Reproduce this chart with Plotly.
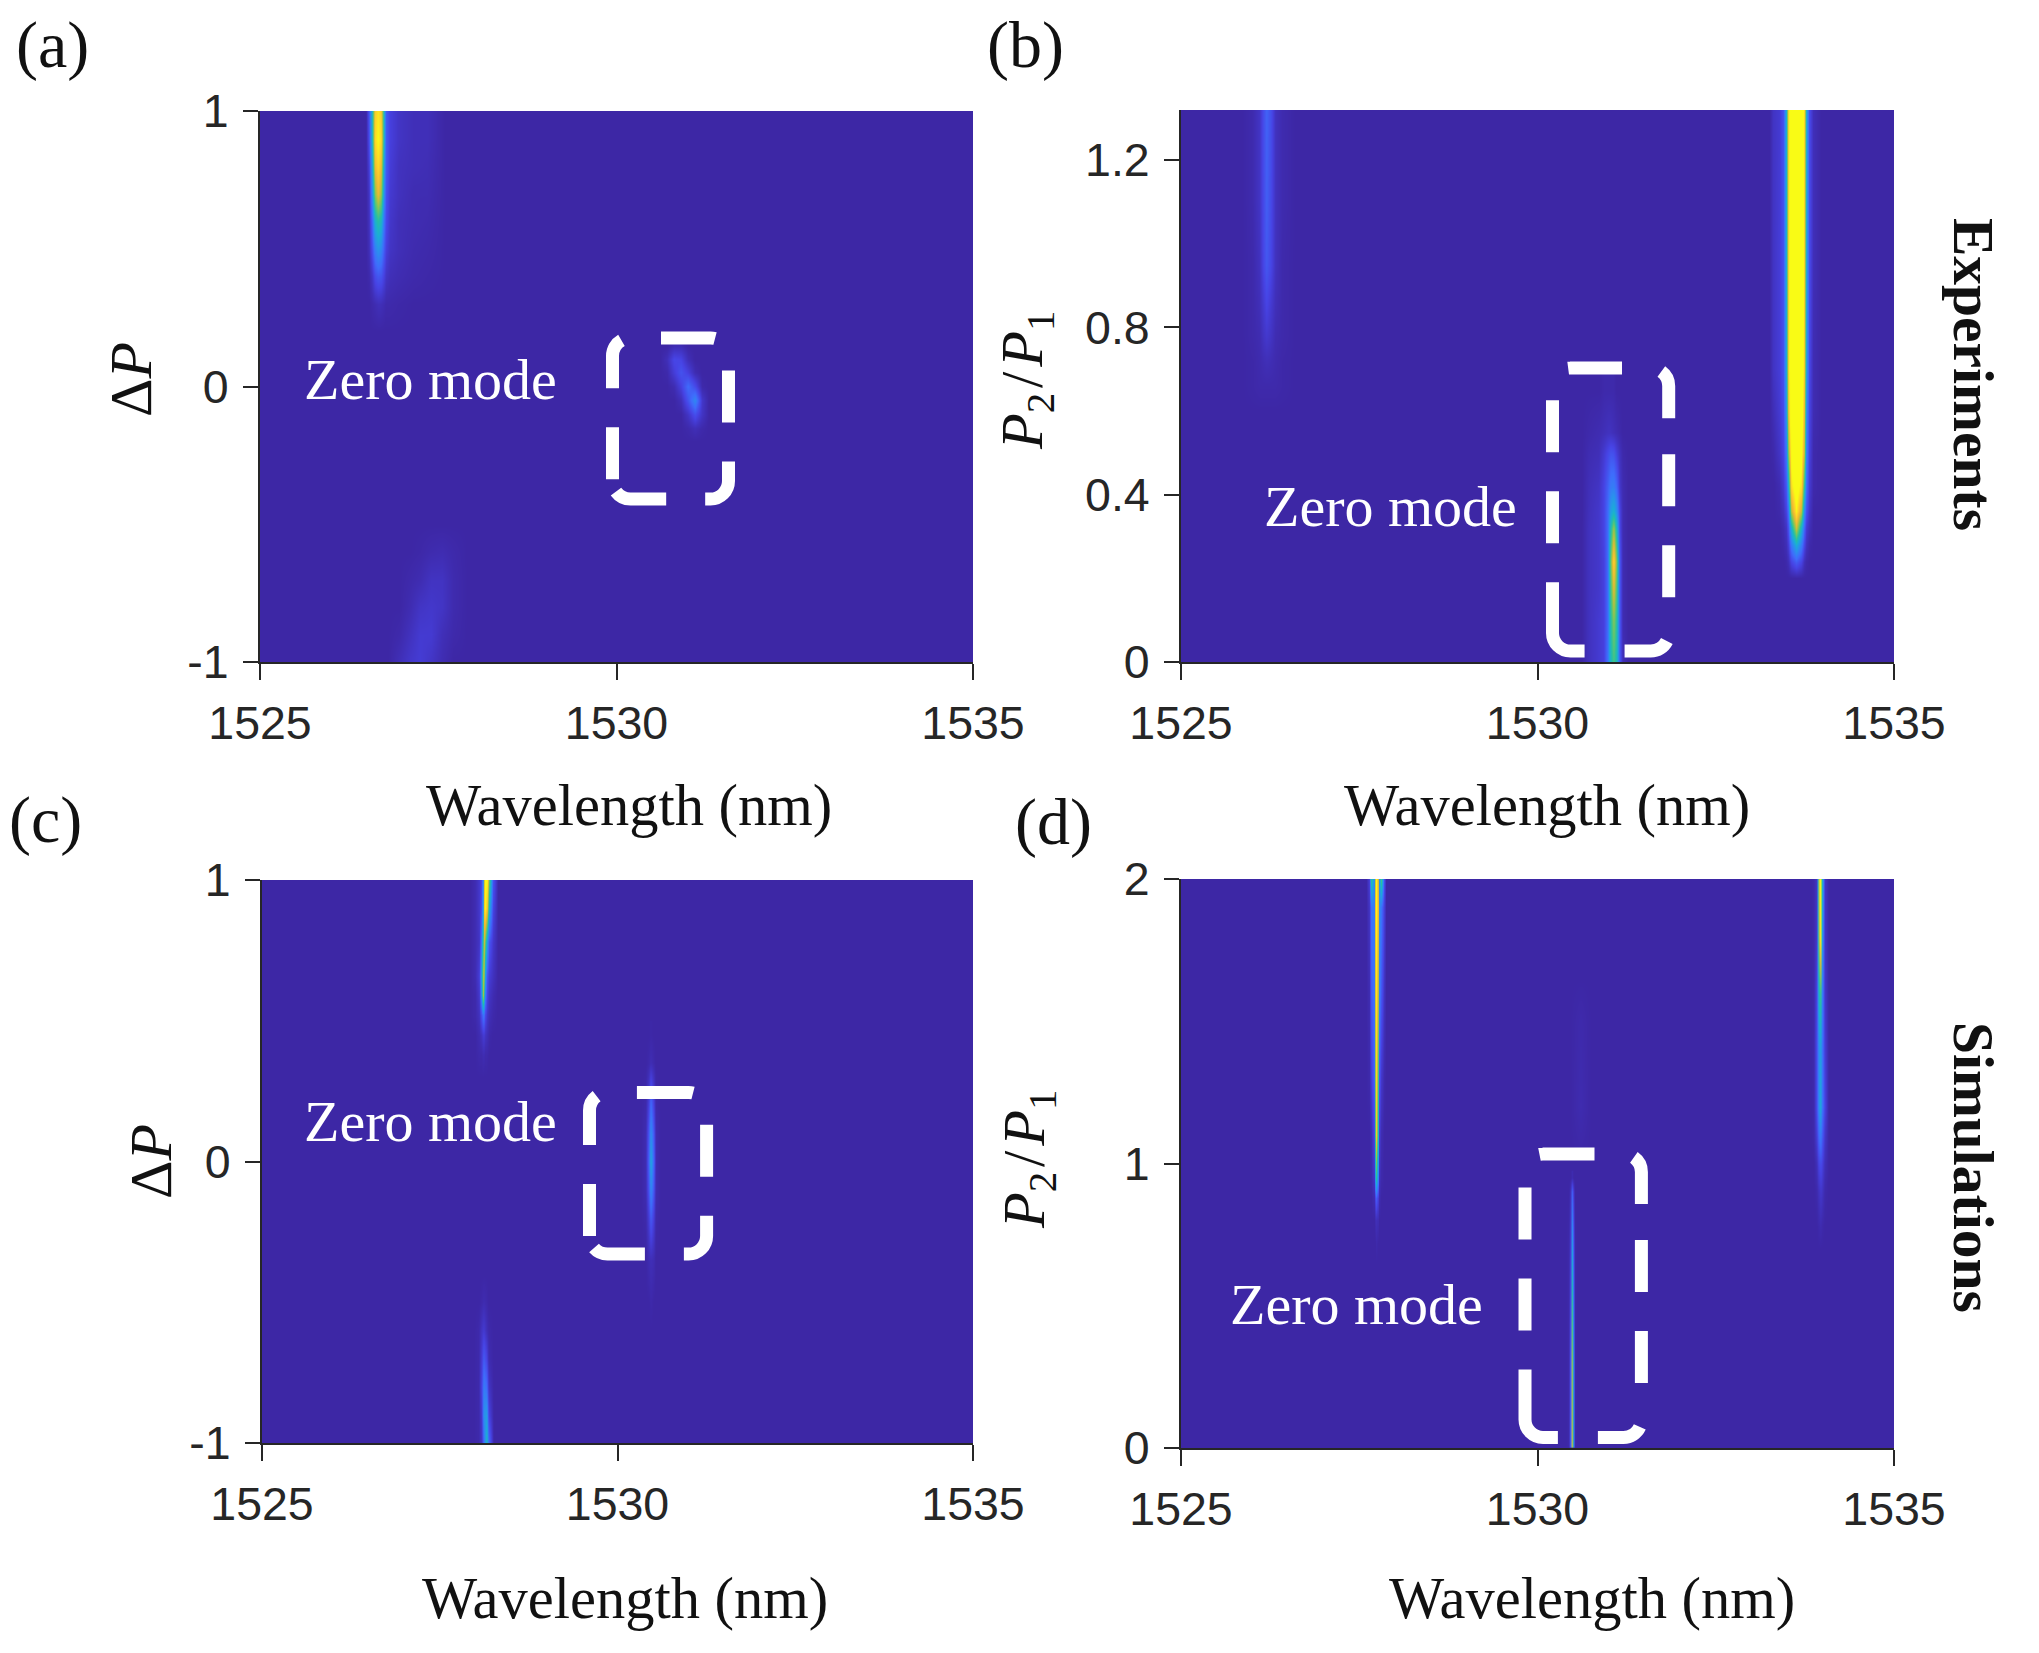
import plotly.graph_objects as go

W, H = 2039, 1653
WAVE_RANGE = [1525, 1535]
WAVE_TICKS = [1525, 1530, 1535]
WAVE_LABELS = ["1525", "1530", "1535"]
DP_TICKS = [-1, 0, 1]
DP_LABELS = ["-1", "0", "1"]
RB_TICKS = [0, 0.4, 0.8, 1.2]
RB_LABELS = ["0", "0.4", "0.8", "1.2"]
RD_TICKS = [0, 1, 2]
RD_LABELS = ["0", "1", "2"]

# Intensity, one small table per visible feature
a_main_wave = [1526.48, 1526.53, 1526.565, 1526.607, 1526.65, 1526.693, 1526.735, 1526.77, 1526.82, 1526.95, 1527.15, 1527.35, 1527.6]
a_main_pow = [1.0, 0.9, 0.8, 0.7, 0.6, 0.5, 0.4, 0.3, 0.2]
a_main_z = [
    [0, .14, .42, .88, .95, .88, .42, .16, .09, .05, .03, .03, 0],
    [0, .12, .42, .92, 1.0, .92, .42, .16, .09, .05, .03, .03, 0],
    [0, .08, .35, .82, .92, .82, .35, .16, .08, .04, .03, .025, 0],
    [0, .05, .28, .65, .80, .68, .30, .14, .07, .04, .02, .02, 0],
    [0, .04, .18, .42, .50, .45, .22, .12, .06, .03, .02, .015, 0],
    [0, .03, .12, .26, .32, .28, .16, .09, .05, .03, .015, .01, 0],
    [0, .01, .05, .12, .15, .14, .09, .05, .03, .02, .01, .005, 0],
    [0, 0, .01, .02, .03, .03, .02, .01, .01, .005, 0, 0, 0],
    [0, 0, 0, 0, 0, 0, 0, 0, 0, 0, 0, 0, 0],
]
a_zero_wave = [1530.6, 1530.7, 1530.8, 1530.9, 1531.0, 1531.1, 1531.2, 1531.3]
a_zero_pow = [0.15, 0.1, 0.05, 0, -0.05, -0.1, -0.15, -0.2]
a_zero_z = [
    [0, 0, .02, .02, 0, 0, 0, 0],
    [0, .03, .11, .10, .03, 0, 0, 0],
    [0, .01, .08, .14, .09, .02, 0, 0],
    [0, 0, .02, .09, .20, .12, .01, 0],
    [0, 0, 0, .03, .14, .28, .06, 0],
    [0, 0, 0, 0, .05, .13, .05, 0],
    [0, 0, 0, 0, .01, .03, .01, 0],
    [0, 0, 0, 0, 0, 0, 0, 0],
]
a_low_wave = [1526.8, 1526.95, 1527.1, 1527.25, 1527.4, 1527.55, 1527.7, 1527.9]
a_low_pow = [-1, -0.9, -0.8, -0.7, -0.6, -0.5]
a_low_z = [
    [0, .03, .06, .075, .05, .02, 0, 0],
    [0, .01, .04, .07, .07, .03, .01, 0],
    [0, 0, .02, .05, .06, .05, .015, 0],
    [0, 0, .01, .02, .045, .045, .015, 0],
    [0, 0, 0, .005, .015, .02, .01, 0],
    [0, 0, 0, 0, 0, 0, 0, 0],
]

b_left_wave = [1525.85, 1526.0, 1526.1, 1526.15, 1526.2, 1526.25, 1526.32, 1526.42, 1526.6]
b_left_ratio = [1.32, 1.1, 0.95, 0.85, 0.78, 0.72, 0.66, 0.6]
b_left_z = [
    [0, .015, .05, .13, .18, .13, .04, .015, 0],
    [0, .015, .05, .12, .17, .12, .04, .015, 0],
    [0, .01, .04, .11, .15, .11, .04, .01, 0],
    [0, .01, .03, .07, .10, .07, .03, .01, 0],
    [0, .01, .02, .05, .065, .05, .02, .01, 0],
    [0, .005, .015, .025, .03, .025, .015, .005, 0],
    [0, .005, .01, .01, .01, .01, .01, .005, 0],
    [0, 0, 0, 0, 0, 0, 0, 0, 0],
]
b_main_wave = [1533.25, 1533.31, 1533.39, 1533.45, 1533.48, 1533.52, 1533.56, 1533.63, 1533.70, 1533.74, 1533.77, 1533.81, 1533.87, 1533.98]
b_main_ratio = [1.32, 1.0, 0.7, 0.6, 0.5, 0.42, 0.36, 0.32, 0.28, 0.24, 0.2]
b_main_z = [
    [0, .05, .07, .14, .40, .90, 1.30, 1.60, 1.30, .90, .40, .12, .03, 0],
    [0, .05, .08, .14, .40, .90, 1.30, 1.60, 1.30, .88, .38, .12, .03, 0],
    [0, .05, .08, .14, .38, .88, 1.25, 1.50, 1.25, .85, .36, .11, .02, 0],
    [0, .03, .07, .12, .33, .82, 1.15, 1.40, 1.15, .80, .30, .10, .02, 0],
    [0, .01, .05, .10, .24, .65, 1.05, 1.25, 1.05, .72, .26, .09, .01, 0],
    [0, 0, .02, .07, .16, .40, .93, 1.10, .93, .50, .20, .07, .01, 0],
    [0, 0, .01, .04, .10, .22, .72, .98, .72, .28, .13, .05, 0, 0],
    [0, 0, 0, .02, .05, .14, .42, .75, .42, .18, .07, .03, 0, 0],
    [0, 0, 0, .01, .03, .08, .24, .40, .24, .10, .04, .01, 0, 0],
    [0, 0, 0, 0, .01, .03, .10, .16, .10, .03, .01, 0, 0, 0],
    [0, 0, 0, 0, 0, 0, 0, 0, 0, 0, 0, 0, 0, 0],
]
b_zero_wave = [1530.61, 1530.71, 1530.85, 1530.93, 1530.975, 1531.02, 1531.06, 1531.10, 1531.145, 1531.19, 1531.27]
b_zero_ratio = [0.65, 0.55, 0.5, 0.42, 0.36, 0.32, 0.24, 0.18, 0.1, 0]
b_zero_z = [
    [0, 0, 0, .01, .01, .01, .01, 0, 0, 0, 0],
    [0, .01, .02, .03, .04, .04, .03, .02, .01, 0, 0],
    [0, .02, .03, .07, .11, .14, .13, .08, .04, .01, 0],
    [0, .03, .05, .10, .17, .24, .25, .18, .06, .02, 0],
    [0, .035, .06, .10, .20, .36, .42, .30, .10, .02, 0],
    [0, .04, .06, .10, .20, .48, .68, .44, .11, .02, 0],
    [0, .04, .06, .09, .20, .62, .92, .62, .15, .02, 0],
    [0, .04, .06, .09, .20, .56, .80, .56, .15, .02, 0],
    [0, .04, .07, .09, .20, .50, .65, .50, .15, .02, 0],
    [0, .04, .07, .09, .22, .46, .55, .46, .15, .03, 0],
]

c_top_wave = [1527.93, 1528.0, 1528.05, 1528.08, 1528.10, 1528.12, 1528.14, 1528.16, 1528.19, 1528.24, 1528.31]
c_top_pow = [1, 0.9, 0.78, 0.66, 0.59, 0.52, 0.45, 0.38, 0.3]
c_top_z = [
    [0, .02, .06, .10, .28, .75, 1.0, 1.0, .60, .14, 0],
    [0, .02, .06, .12, .35, .85, 1.0, .85, .40, .10, 0],
    [0, .02, .05, .20, .55, .75, .62, .35, .15, .06, 0],
    [0, .02, .08, .30, .70, .65, .35, .15, .08, .04, 0],
    [0, .01, .06, .25, .70, .50, .25, .10, .05, .02, 0],
    [0, .01, .04, .12, .22, .20, .12, .06, .03, .01, 0],
    [0, 0, .02, .04, .07, .07, .05, .03, .01, 0, 0],
    [0, 0, .01, .01, .02, .02, .01, .01, 0, 0, 0],
    [0, 0, 0, 0, 0, 0, 0, 0, 0, 0, 0],
]
c_zero_wave = [1530.33, 1530.40, 1530.44, 1530.47, 1530.50, 1530.54, 1530.61]
c_zero_pow = [0.45, 0.35, 0.2, 0.1, 0, -0.1, -0.2, -0.35, -0.5, -0.6]
c_zero_z = [
    [0, 0, 0, .005, 0, 0, 0],
    [0, 0, .01, .025, .01, 0, 0],
    [0, .01, .09, .20, .09, .01, 0],
    [0, .02, .15, .30, .15, .02, 0],
    [0, .02, .18, .38, .18, .02, 0],
    [0, .02, .14, .28, .14, .02, 0],
    [0, .01, .08, .16, .08, .01, 0],
    [0, 0, .02, .03, .02, 0, 0],
    [0, 0, 0, .01, 0, 0, 0],
    [0, 0, 0, 0, 0, 0, 0],
]
c_low_wave = [1527.98, 1528.05, 1528.09, 1528.12, 1528.15, 1528.19, 1528.26]
c_low_pow = [-1, -0.9, -0.8, -0.7, -0.6, -0.5, -0.4]
c_low_z = [
    [0, .01, .05, .20, .45, .20, 0],
    [0, .01, .07, .30, .35, .10, 0],
    [0, .01, .10, .25, .20, .05, 0],
    [0, .01, .08, .16, .10, .02, 0],
    [0, .01, .05, .07, .03, .01, 0],
    [0, 0, .01, .02, .01, 0, 0],
    [0, 0, 0, 0, 0, 0, 0],
]

d_left_wave = [1527.60, 1527.64, 1527.67, 1527.70, 1527.72, 1527.74, 1527.76, 1527.78, 1527.81, 1527.84, 1527.88]
d_left_ratio = [2, 1.9, 1.6, 1.3, 1.1, 0.95, 0.88, 0.8, 0.72, 0.65]
d_left_z = [
    [0, .08, .50, .30, .75, 1.0, .75, .30, .55, .12, 0],
    [0, .05, .22, .25, .80, 1.0, .80, .30, .22, .08, 0],
    [0, .02, .16, .22, .75, .95, .70, .25, .15, .04, 0],
    [0, .01, .08, .18, .65, .90, .55, .15, .06, .01, 0],
    [0, 0, .02, .10, .55, .85, .45, .08, .02, 0, 0],
    [0, 0, .01, .05, .32, .50, .25, .04, .01, 0, 0],
    [0, 0, 0, .02, .10, .16, .08, .02, 0, 0, 0],
    [0, 0, 0, 0, .02, .03, .02, 0, 0, 0, 0],
    [0, 0, 0, 0, 0, .01, 0, 0, 0, 0, 0],
    [0, 0, 0, 0, 0, 0, 0, 0, 0, 0, 0],
]
d_faint_wave = [1530.45, 1530.6, 1530.75]
d_faint_ratio = [1.65, 1.5, 1.2, 1.0]
d_faint_z = [
    [0, 0, 0],
    [0, .012, 0],
    [0, .018, 0],
    [0, .0, 0],
]
d_zero_wave = [1530.40, 1530.44, 1530.46, 1530.48, 1530.50, 1530.52, 1530.56]
d_zero_ratio = [0.95, 0.9, 0.7, 0.5, 0.3, 0]
d_zero_z = [
    [0, 0, 0, .02, 0, 0, 0],
    [0, 0, .05, .18, .05, 0, 0],
    [0, .01, .10, .38, .10, .01, 0],
    [0, .01, .15, .55, .15, .01, 0],
    [0, .01, .20, .72, .20, .01, 0],
    [0, .01, .22, .80, .22, .01, 0],
]
d_right_wave = [1533.825, 1533.875, 1533.915, 1533.945, 1533.965, 1533.985, 1534.025, 1534.075]
d_right_ratio = [2, 1.8, 1.6, 1.4, 1.2, 1.1, 1.0, 0.9, 0.78, 0.7]
d_right_z = [
    [0, .01, .05, .70, 1.20, .50, .05, 0],
    [0, .01, .06, .65, 1.05, .40, .05, 0],
    [0, .01, .10, .45, .55, .30, .06, 0],
    [0, .01, .12, .30, .35, .25, .08, 0],
    [0, .01, .12, .30, .40, .25, .10, 0],
    [0, .01, .08, .20, .25, .18, .06, 0],
    [0, 0, .03, .10, .12, .10, .03, 0],
    [0, 0, .01, .04, .06, .05, .01, 0],
    [0, 0, 0, .01, .02, .01, 0, 0],
    [0, 0, 0, 0, 0, 0, 0, 0],
]

PARULA = [
    [0.0, "#3D27A5"], [0.1, "#4743E4"], [0.2, "#3F6CFC"], [0.3, "#2B8FEE"],
    [0.4, "#1BAED5"], [0.5, "#25BFA5"], [0.6, "#60C66F"], [0.7, "#ACC341"],
    [0.8, "#EEB833"], [0.9, "#FCD12B"], [1.0, "#F9FB15"],
]

PANELS = {
    "a": dict(box=(260, 973, 111, 662), yr=[-1, 1], tv=DP_TICKS, tt=DP_LABELS,
              patches=[(a_low_wave, a_low_pow, a_low_z), (a_zero_wave, a_zero_pow, a_zero_z), (a_main_wave, a_main_pow, a_main_z)]),
    "b": dict(box=(1181, 1894, 110, 662), yr=[0, 1.32], tv=RB_TICKS, tt=RB_LABELS,
              patches=[(b_left_wave, b_left_ratio, b_left_z), (b_zero_wave, b_zero_ratio, b_zero_z), (b_main_wave, b_main_ratio, b_main_z)]),
    "c": dict(box=(262, 973, 880, 1443), yr=[-1, 1], tv=DP_TICKS, tt=DP_LABELS,
              patches=[(c_top_wave, c_top_pow, c_top_z), (c_zero_wave, c_zero_pow, c_zero_z), (c_low_wave, c_low_pow, c_low_z)]),
    "d": dict(box=(1181, 1894, 879, 1448), yr=[0, 2], tv=RD_TICKS, tt=RD_LABELS,
              patches=[(d_faint_wave, d_faint_ratio, d_faint_z), (d_left_wave, d_left_ratio, d_left_z), (d_zero_wave, d_zero_ratio, d_zero_z), (d_right_wave, d_right_ratio, d_right_z)]),
}

INK = "#262626"
SANS = "Liberation Sans"
SERIF = "Liberation Serif"


def px_x(x):
    return x / W


def px_y(y):
    return 1 - y / H


fig = go.Figure()
layout_axes = {}
for i, (name, p) in enumerate(PANELS.items()):
    n = "" if i == 0 else str(i + 1)
    x0, x1, y0, y1 = p["box"]
    layout_axes[f"xaxis{n}"] = dict(
        domain=[px_x(x0), px_x(x1)], range=WAVE_RANGE, tickvals=WAVE_TICKS, ticktext=WAVE_LABELS,
        anchor=f"y{n}", ticks="outside", ticklen=16, tickwidth=2, tickcolor=INK, showline=True,
        linecolor=INK, linewidth=2, showgrid=False, zeroline=False, ticklabelstandoff=3,
        tickfont=dict(family=SANS, size=46.5, color=INK), automargin=False,
    )
    layout_axes[f"yaxis{n}"] = dict(
        domain=[px_y(y1), px_y(y0)], range=p["yr"], tickvals=p["tv"], ticktext=p["tt"],
        anchor=f"x{n}", ticks="outside", ticklen=15, tickwidth=2, tickcolor=INK, showline=True,
        linecolor=INK, linewidth=2, showgrid=False, zeroline=False, ticklabelstandoff=5,
        tickfont=dict(family=SANS, size=46.5, color=INK), automargin=False,
    )
    for wave, level, z in p["patches"]:
        fig.add_trace(go.Heatmap(x=wave, y=level, z=z, xaxis=f"x{n}", yaxis=f"y{n}", zmin=0, zmax=1,
                                 colorscale=PARULA, zsmooth="best", showscale=False, hoverinfo="skip"))


# Dashed rounded frames: left, right, top, bottom, first dash start on the top edge, dash list
SHORT_DASH = [54, 38, 52, 39, 53, 39, 52.5, 13, 52, 39, 51, 41]
TALL_DASH = [52, 40, 49, 36, 52, 39, 52, 44, 46, 40, 93, 39, 52, 39, 52, 40]
FRAMES = [
    (612.5, 728.5, 338, 499, 48.5, SHORT_DASH),
    (1552.5, 1668.7, 368, 651, 17.5, TALL_DASH),
    (589.5, 706.6, 1092.5, 1254, 49.5, SHORT_DASH),
    (1525, 1641.4, 1154, 1437.4, 17.5, TALL_DASH),
]
R = 18
K = 0.5523 * R


def pt(x, y):
    return f"{px_x(x):.5f},{px_y(y):.5f}"


shapes = []
for l, r, t, b, s, dash in FRAMES:
    path = (
        f"M{pt(l + s, t)} L{pt(r - R, t)} "
        f"C{pt(r - R + K, t)} {pt(r, t + R - K)} {pt(r, t + R)} L{pt(r, b - R)} "
        f"C{pt(r, b - R + K)} {pt(r - R + K, b)} {pt(r - R, b)} L{pt(l + R, b)} "
        f"C{pt(l + R - K, b)} {pt(l, b - R + K)} {pt(l, b - R)} L{pt(l, t + R)} "
        f"C{pt(l, t + R - K)} {pt(l + R - K, t)} {pt(l + R, t)} L{pt(l + s, t)}"
    )
    shapes.append(dict(type="path", xref="paper", yref="paper", path=path, layer="above",
                       line=dict(color="white", width=13, dash=",".join(f"{d}px" for d in dash))))

DP = "\u0394<i>P</i>"
RATIO = "<i>P</i><sub>2</sub>\u200a/\u200a<i>P</i><sub>1</sub>"
TEXTS = [
    ("(a)", 52, 45, 66, "#111111", 0, False),
    ("(b)", 1025, 45, 66, "#111111", 0, False),
    ("(c)", 45, 820, 66, "#111111", 0, False),
    ("(d)", 1053, 822, 66, "#111111", 0, False),
    ("Zero mode", 430, 380, 58, "white", 0, False),
    ("Zero mode", 1390, 507, 58, "white", 0, False),
    ("Zero mode", 430, 1121, 58, "white", 0, False),
    ("Zero mode", 1356, 1304, 58, "white", 0, False),
    ("Wavelength (nm)", 629, 806, 58.5, "#111111", 0, False),
    ("Wavelength (nm)", 1547, 806, 58.5, "#111111", 0, False),
    ("Wavelength (nm)", 625, 1598, 58.5, "#111111", 0, False),
    ("Wavelength (nm)", 1592, 1598, 58.5, "#111111", 0, False),
    (DP, 131, 380, 60, "#111111", -90, False),
    (DP, 151, 1162, 60, "#111111", -90, False),
    (RATIO, 1027, 381, 58.5, "#111111", -90, False),
    (RATIO, 1028, 1160, 58.5, "#111111", -90, False),
    ("Experiments", 1974, 374, 57.5, "#111111", 90, True),
    ("Simulations", 1974, 1167, 57.5, "#111111", 90, True),
]
annotations = [
    dict(text=f"<b>{s}</b>" if bold else s, x=px_x(x), y=px_y(y), xref="paper", yref="paper", xanchor="center",
         yanchor="middle", showarrow=False, textangle=ang, font=dict(family=SERIF, size=size, color=col))
    for s, x, y, size, col, ang, bold in TEXTS
]

fig.update_layout(
    width=W, height=H, margin=dict(l=0, r=0, t=0, b=0, autoexpand=False), autosize=False,
    paper_bgcolor="white", plot_bgcolor="#3D27A5", showlegend=False,
    shapes=shapes, annotations=annotations, **layout_axes,
)
fig.write_html("out.html", config={"displayModeBar": False},
               post_script="document.body.style.margin='0';document.documentElement.style.overflow='hidden';")
